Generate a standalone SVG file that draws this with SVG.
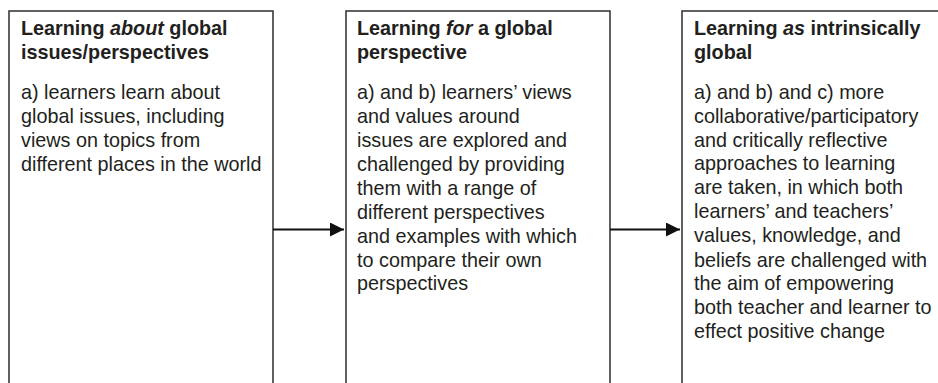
<svg xmlns="http://www.w3.org/2000/svg" width="938" height="383" viewBox="0 0 938 383">
<defs>
<style>
.box{fill:#fff;stroke:#3a3a3a;stroke-width:1.6}
.t{font-family:"Liberation Sans",Arial,sans-serif;font-size:19.8px;fill:#231f20}
.b{font-weight:bold}
.conn{stroke:#111;stroke-width:2.2;fill:none}
</style>
<marker id="ah" viewBox="0 0 10 10" refX="10" refY="5" markerUnits="userSpaceOnUse" markerWidth="18" markerHeight="14" orient="auto">
<path d="M0,0 L10,5 L0,10 z" fill="#111"/>
</marker>
</defs>
<rect width="938" height="383" fill="#fff"/>
<g id="node1">
<rect class="box" x="9" y="11" width="264" height="400"/>
<text class="t b" x="21" y="35">Learning <tspan font-style="italic">about</tspan> global</text>
<text class="t b" x="21" y="58.5">issues/perspectives</text>
<text class="t" x="21" y="99">a) learners learn about</text>
<text class="t" x="21" y="123">global issues, including</text>
<text class="t" x="21" y="147">views on topics from</text>
<text class="t" x="21" y="171">different places in the world</text>
</g>
<g id="node2">
<rect class="box" x="346" y="11" width="264" height="400"/>
<text class="t b" x="357" y="35">Learning <tspan font-style="italic">for</tspan> a global</text>
<text class="t b" x="357" y="58.5">perspective</text>
<text class="t" x="357" y="99">a) and b) learners’ views</text>
<text class="t" x="357" y="123">and values around</text>
<text class="t" x="357" y="147">issues are explored and</text>
<text class="t" x="357" y="171">challenged by providing</text>
<text class="t" x="357" y="194.5">them with a range of</text>
<text class="t" x="357" y="218.5">different perspectives</text>
<text class="t" x="357" y="242.5">and examples with which</text>
<text class="t" x="357" y="266.5">to compare their own</text>
<text class="t" x="357" y="290">perspectives</text>
</g>
<g id="node3">
<rect class="box" x="682" y="11" width="300" height="400"/>
<text class="t b" x="694" y="35">Learning <tspan font-style="italic">as</tspan> intrinsically</text>
<text class="t b" x="694" y="58.5">global</text>
<text class="t" x="694" y="99">a) and b) and c) more</text>
<text class="t" x="694" y="122.5">collaborative/participatory</text>
<text class="t" x="694" y="146.5">and critically reflective</text>
<text class="t" x="694" y="170">approaches to learning</text>
<text class="t" x="694" y="194">are taken, in which both</text>
<text class="t" x="694" y="218">learners’ and teachers’</text>
<text class="t" x="694" y="242">values, knowledge, and</text>
<text class="t" x="694" y="266.5">beliefs are challenged with</text>
<text class="t" x="694" y="290">the aim of empowering</text>
<text class="t" x="694" y="314">both teacher and learner to</text>
<text class="t" x="694" y="338">effect positive change</text>
</g>
<g id="connectors">
<line class="conn" x1="273" y1="229.5" x2="344" y2="229.5" marker-end="url(#ah)"/>
<line class="conn" x1="610" y1="229.5" x2="680" y2="229.5" marker-end="url(#ah)"/>
</g>
</svg>
